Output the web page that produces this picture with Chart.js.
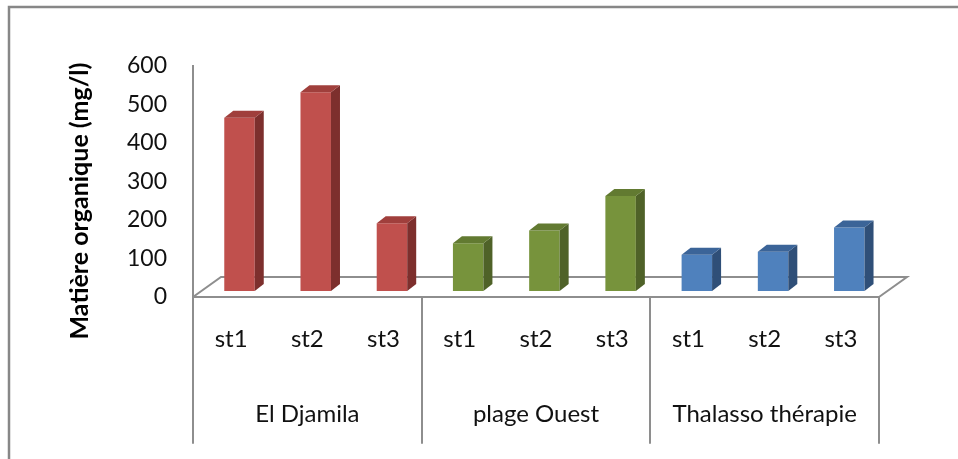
<!DOCTYPE html>
<html>
<head>
<meta charset="utf-8">
<script src="https://cdn.jsdelivr.net/npm/chart.js@4/dist/chart.umd.min.js"></script>
<style>
  html, body { margin: 0; padding: 0; background: #ffffff; }
  #wrap { width: 958px; height: 459px; }
</style>
</head>
<body>
<div id="wrap"><canvas id="c" width="958" height="459"></canvas></div>
<script>
// Organic matter (mg/l) per station and site
const stations = ['st1', 'st2', 'st3'];
const sites = ['El Djamila', 'plage Ouest', 'Thalasso thérapie'];
const elDjamila = [450, 516, 176];
const plageOuest = [124, 157, 247];
const thalasso = [94, 102, 165];
const yTicks = [0, 100, 200, 300, 400, 500, 600];
const yTitle = 'Matière organique (mg/l)';

// colours per site: front, side and top faces of the 3D columns
const frontColors = ['#C0504D', '#77933C', '#4F81BD'];
const sideColors = ['#7D2F2D', '#4F6228', '#2F4F78'];
const topColors = ['#A03F3C', '#627A31', '#3B6498'];

const FONT = 'Lato, "Open Sans", sans-serif';
const LINE = '#8e8e8e';

const seriesBySite = [elDjamila, plageOuest, thalasso];
const labels = sites.flatMap(() => stations);
const values = seriesBySite.flat();
const siteIndex = seriesBySite.flatMap((s, i) => s.map(() => i));
const siteLabels = sites.flatMap(name => ['', name, '']);

// floor depth and column depth (oblique projection)
const FLOOR_DX = 28, FLOOR_DY = -20;
const BAR_POS = 0.3;          // columns sit 30% back into the floor
const BAR_DX = 9, BAR_DY = -7;

const depthPlugin = {
  id: 'depth3d',
  beforeDraw(chart) {
    const ctx = chart.ctx;
    ctx.save();
    ctx.fillStyle = '#ffffff';
    ctx.fillRect(0, 0, chart.width, chart.height);
    ctx.strokeStyle = '#878787';
    ctx.lineWidth = 2.5;
    ctx.strokeRect(9, 7, chart.width + 20, chart.height + 20);
    ctx.restore();
  },
  beforeDatasetsDraw(chart) {
    const ctx = chart.ctx;
    const a = chart.chartArea;
    const xs = chart.scales.x;
    ctx.save();
    ctx.strokeStyle = LINE;
    ctx.lineWidth = 2;
    ctx.lineCap = 'round';
    // floor: back edge and the two side edges
    ctx.beginPath();
    ctx.moveTo(a.left, a.bottom);
    ctx.lineTo(a.left + FLOOR_DX, a.bottom + FLOOR_DY);
    ctx.lineTo(a.right + FLOOR_DX, a.bottom + FLOOR_DY);
    ctx.lineTo(a.right, a.bottom);
    ctx.stroke();
    // group separators under the axis
    const bounds = [a.left];
    for (let g = 1; g < sites.length; g++) {
      const i = g * stations.length;
      bounds.push((xs.getPixelForValue(i - 1) + xs.getPixelForValue(i)) / 2);
    }
    bounds.push(a.right);
    ctx.beginPath();
    bounds.forEach(x => {
      ctx.moveTo(Math.round(x), a.bottom);
      ctx.lineTo(Math.round(x), 443);
    });
    ctx.stroke();
    ctx.restore();
    // shift the column fronts back into the floor
    ctx.save();
    ctx.translate(FLOOR_DX * BAR_POS, FLOOR_DY * BAR_POS);
  },
  afterDatasetsDraw(chart) {
    const ctx = chart.ctx;
    const meta = chart.getDatasetMeta(0);
    meta.data.forEach((bar, i) => {
      const g = siteIndex[i];
      const w = bar.width;
      const l = bar.x - w / 2, r = bar.x + w / 2;
      const t = bar.y, b = bar.base;
      ctx.fillStyle = sideColors[g];
      ctx.beginPath();
      ctx.moveTo(r, t);
      ctx.lineTo(r + BAR_DX, t + BAR_DY);
      ctx.lineTo(r + BAR_DX, b + BAR_DY);
      ctx.lineTo(r, b);
      ctx.closePath();
      ctx.fill();
      ctx.fillStyle = topColors[g];
      ctx.beginPath();
      ctx.moveTo(l, t);
      ctx.lineTo(l + BAR_DX, t + BAR_DY);
      ctx.lineTo(r + BAR_DX, t + BAR_DY);
      ctx.lineTo(r, t);
      ctx.closePath();
      ctx.fill();
    });
    ctx.restore();
  },
  afterDraw(chart) {
    const ctx = chart.ctx;
    ctx.save();
    ctx.translate(80, 201);
    ctx.rotate(-Math.PI / 2);
    ctx.font = 'bold 25px ' + FONT;
    ctx.fillStyle = '#000000';
    ctx.textAlign = 'center';
    ctx.textBaseline = 'middle';
    ctx.fillText(yTitle, 0, 0);
    ctx.restore();
  }
};

new Chart(document.getElementById('c'), {
  type: 'bar',
  data: {
    labels: labels,
    datasets: [{
      data: values,
      backgroundColor: siteIndex.map(g => frontColors[g]),
      borderWidth: 0,
      barPercentage: 0.4,
      categoryPercentage: 1.0,
      clip: false
    }]
  },
  options: {
    responsive: false,
    animation: false,
    layout: { padding: { left: 0, right: 79, top: 66, bottom: 2 } },
    plugins: { legend: { display: false }, tooltip: { enabled: false } },
    scales: {
      y: {
        min: 0, max: 600,
        afterBuildTicks: s => { s.ticks = yTicks.map(v => ({ value: v })); },
        afterFit: s => { s.width = 193; },
        grid: { display: false, drawTicks: false },
        border: { display: true, color: LINE, width: 2 },
        ticks: { padding: 26, color: '#111111', font: { family: FONT, size: 23 } }
      },
      x: {
        weight: 0,
        offset: true,
        afterFit: s => { s.height = 60; },
        grid: { display: false, drawTicks: false },
        border: { display: true, color: LINE, width: 2 },
        ticks: { padding: 28, autoSkip: false, maxRotation: 0, color: '#111111', font: { family: FONT, size: 24 } }
      },
      x2: {
        type: 'category',
        position: 'bottom',
        weight: 1,
        labels: siteLabels,
        offset: true,
        afterFit: s => { s.height = 100; },
        grid: { display: false, drawTicks: false },
        border: { display: false },
        ticks: { padding: 43, autoSkip: false, maxRotation: 0, color: '#111111', font: { family: FONT, size: 24 } }
      }
    }
  },
  plugins: [depthPlugin]
});
</script>
</body>
</html>
